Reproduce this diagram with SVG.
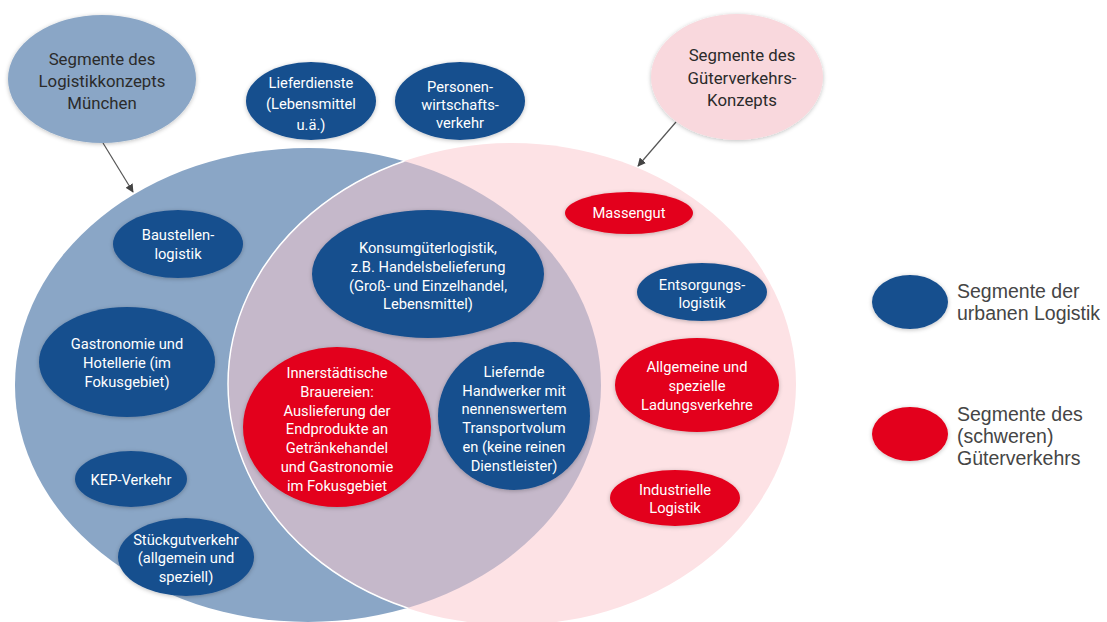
<svg xmlns="http://www.w3.org/2000/svg" width="1107" height="622" viewBox="0 0 1107 622">
<defs>
<style>
.nb{fill:#184f8e}
.nr{fill:#e3051b}
.t{font-family:Roboto,"Liberation Sans",sans-serif;font-size:14.7px;fill:#ffffff;text-anchor:middle}
.tt{font-family:Roboto,"Liberation Sans",sans-serif;font-size:16.8px;fill:#2b2b2b;text-anchor:middle}
.lg{font-family:"Liberation Sans",Arial,sans-serif;font-size:19.5px;fill:#454545}
.ar{stroke:#555;stroke-width:1.2;fill:none;marker-end:url(#ah)}
</style>
<marker id="ah" viewBox="0 0 10 10" refX="9" refY="5" markerWidth="7" markerHeight="7" orient="auto">
<path d="M0,0 L10,5 L0,10 z" fill="#444"/>
</marker>
<filter id="sh" x="-20%" y="-20%" width="140%" height="140%">
<feGaussianBlur in="SourceAlpha" stdDeviation="2"/>
<feOffset dx="0" dy="1" result="b"/>
<feFlood flood-color="#000" flood-opacity="0.25"/>
<feComposite in2="b" operator="in"/>
<feMerge><feMergeNode/><feMergeNode in="SourceGraphic"/></feMerge>
</filter>
<clipPath id="blueClip"><ellipse cx="308" cy="385" rx="293" ry="237"/></clipPath>
</defs>
<rect width="1107" height="622" fill="#ffffff"/>

<g id="big-circles">
<ellipse cx="308" cy="385" rx="293" ry="237" fill="#8aa6c6"/>
<ellipse cx="512" cy="384" rx="284" ry="241" fill="#fde2e5"/>
<ellipse cx="512" cy="384" rx="284" ry="241" fill="#c5b8ca" stroke="#ffffff" stroke-width="1.5" clip-path="url(#blueClip)"/>
</g>

<g id="connectors">
<line class="ar" x1="103" y1="143" x2="133" y2="192"/>
<line class="ar" x1="676" y1="122" x2="638" y2="166"/>
</g>

<g id="title-muenchen">
<ellipse cx="102" cy="79" rx="94" ry="64" fill="#8aa6c6" filter="url(#sh)"/>
<text class="tt"><tspan x="102" y="65">Segmente des</tspan><tspan x="102" y="87">Logistikkonzepts</tspan><tspan x="102" y="109">München</tspan></text>
</g>

<g id="title-gueter">
<ellipse cx="737" cy="77" rx="86" ry="63" fill="#f9d8dd" filter="url(#sh)"/>
<text class="tt"><tspan x="742" y="61">Segmente des</tspan><tspan x="742" y="84">Güterverkehrs-</tspan><tspan x="742" y="106">Konzepts</tspan></text>
</g>

<g id="lieferdienste">
<ellipse class="nb" cx="311" cy="101" rx="65" ry="39" filter="url(#sh)"/>
<text class="t"><tspan x="311" y="88">Lieferdienste</tspan><tspan x="311" y="109">(Lebensmittel</tspan><tspan x="311" y="130">u.ä.)</tspan></text>
</g>

<g id="personenwirtschaftsverkehr">
<ellipse class="nb" cx="460" cy="101" rx="65" ry="39" filter="url(#sh)"/>
<text class="t"><tspan x="460" y="92">Personen-</tspan><tspan x="460" y="110">wirtschafts-</tspan><tspan x="460" y="128">verkehr</tspan></text>
</g>

<g id="baustellenlogistik">
<ellipse class="nb" cx="178" cy="244" rx="65" ry="34" filter="url(#sh)"/>
<text class="t"><tspan x="178" y="240">Baustellen-</tspan><tspan x="178" y="259">logistik</tspan></text>
</g>

<g id="gastronomie">
<ellipse class="nb" cx="127" cy="362" rx="88" ry="55" filter="url(#sh)"/>
<text class="t"><tspan x="127" y="349">Gastronomie und</tspan><tspan x="127" y="368">Hotellerie (im</tspan><tspan x="127" y="387">Fokusgebiet)</tspan></text>
</g>

<g id="kep">
<ellipse class="nb" cx="131" cy="479" rx="56" ry="28" filter="url(#sh)"/>
<text class="t" x="131" y="485">KEP-Verkehr</text>
</g>

<g id="stueckgut">
<ellipse class="nb" cx="186" cy="557" rx="68" ry="39" filter="url(#sh)"/>
<text class="t"><tspan x="186" y="545">Stückgutverkehr</tspan><tspan x="186" y="563">(allgemein und</tspan><tspan x="186" y="582">speziell)</tspan></text>
</g>

<g id="konsumgueter">
<ellipse class="nb" cx="428" cy="274" rx="116" ry="64" filter="url(#sh)"/>
<text class="t"><tspan x="428" y="253">Konsumgüterlogistik,</tspan><tspan x="428" y="272">z.B. Handelsbelieferung</tspan><tspan x="428" y="291">(Groß- und Einzelhandel,</tspan><tspan x="428" y="309">Lebensmittel)</tspan></text>
</g>

<g id="brauereien">
<ellipse class="nr" cx="337" cy="427" rx="94" ry="80" filter="url(#sh)"/>
<text class="t"><tspan x="337" y="378">Innerstädtische</tspan><tspan x="337" y="397">Brauereien:</tspan><tspan x="337" y="416">Auslieferung der</tspan><tspan x="337" y="434">Endprodukte an</tspan><tspan x="337" y="453">Getränkehandel</tspan><tspan x="337" y="472">und Gastronomie</tspan><tspan x="337" y="491">im Fokusgebiet</tspan></text>
</g>

<g id="handwerker">
<ellipse class="nb" cx="514" cy="416" rx="76" ry="74" filter="url(#sh)"/>
<text class="t"><tspan x="514" y="377">Liefernde</tspan><tspan x="514" y="396">Handwerker mit</tspan><tspan x="514" y="414">nennenswertem</tspan><tspan x="514" y="433">Transportvolum</tspan><tspan x="514" y="452">en (keine reinen</tspan><tspan x="514" y="471">Dienstleister)</tspan></text>
</g>

<g id="massengut">
<ellipse class="nr" cx="629" cy="213" rx="64" ry="21" filter="url(#sh)"/>
<text class="t" x="629" y="218">Massengut</text>
</g>

<g id="entsorgung">
<ellipse class="nb" cx="702" cy="292" rx="65" ry="29" filter="url(#sh)"/>
<text class="t"><tspan x="702" y="290">Entsorgungs-</tspan><tspan x="702" y="308">logistik</tspan></text>
</g>

<g id="ladungsverkehre">
<ellipse class="nr" cx="697" cy="385" rx="82" ry="47" filter="url(#sh)"/>
<text class="t"><tspan x="697" y="372">Allgemeine und</tspan><tspan x="697" y="391">spezielle</tspan><tspan x="697" y="410">Ladungsverkehre</tspan></text>
</g>

<g id="industrielle">
<ellipse class="nr" cx="675" cy="498" rx="65" ry="28" filter="url(#sh)"/>
<text class="t"><tspan x="675" y="495">Industrielle</tspan><tspan x="675" y="513">Logistik</tspan></text>
</g>

<g id="legend-urban">
<ellipse class="nb" cx="910" cy="302" rx="38" ry="27" filter="url(#sh)"/>
<text class="lg"><tspan x="957" y="298">Segmente der</tspan><tspan x="957" y="320">urbanen Logistik</tspan></text>
</g>

<g id="legend-gueter">
<ellipse class="nr" cx="910" cy="434" rx="38" ry="27" filter="url(#sh)"/>
<text class="lg"><tspan x="957" y="421">Segmente des</tspan><tspan x="957" y="443">(schweren)</tspan><tspan x="957" y="465">Güterverkehrs</tspan></text>
</g>
</svg>
